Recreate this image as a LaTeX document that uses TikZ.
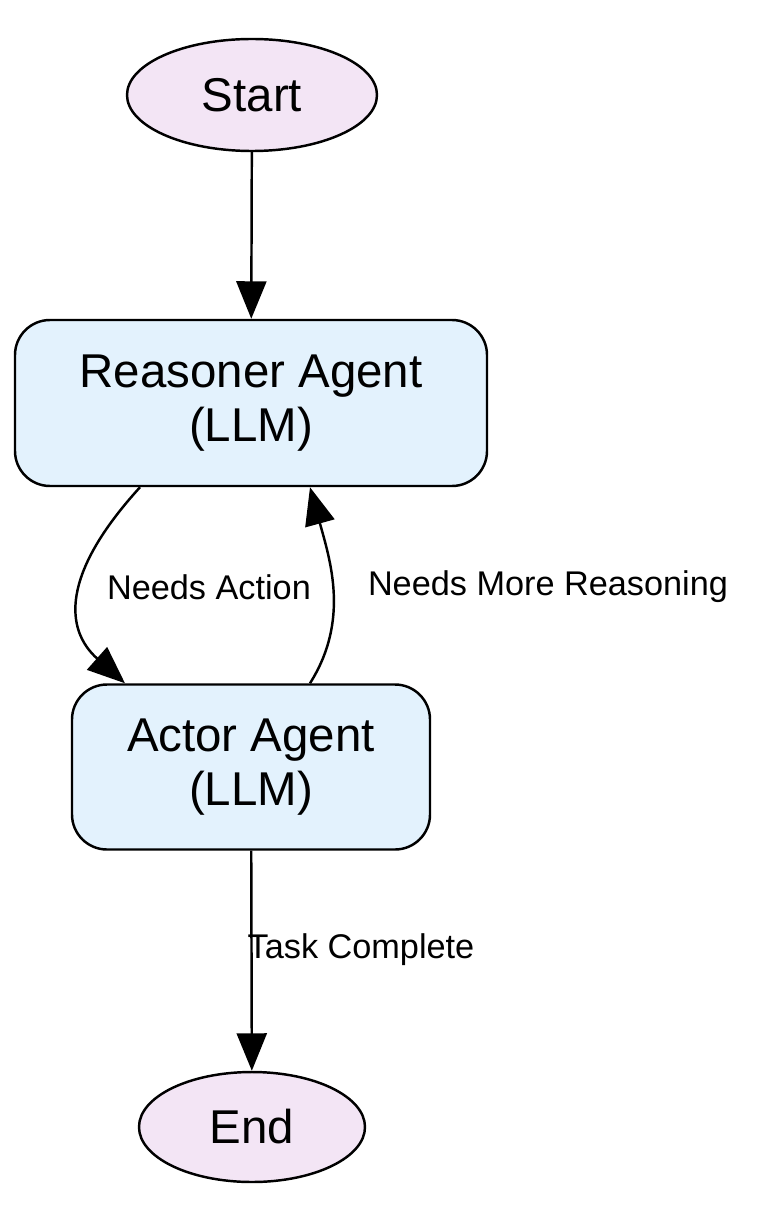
\documentclass[tikz,border=0pt]{standalone}
\usepackage{fontspec}
\setmainfont{Liberation Sans}
\usetikzlibrary{shapes.geometric, arrows.meta}
\definecolor{termfill}{HTML}{F3E5F5}
\definecolor{agentfill}{HTML}{E3F2FD}
\begin{document}
\begin{tikzpicture}[line width = 1.4pt,
  terminal/.style = {ellipse, draw, fill = termfill, inner sep = 0pt, font = \fontsize{27}{31}\selectfont},
  agent/.style = {rectangle, rounded corners = 0.7cm, draw, fill = agentfill, inner sep = 0pt, align = center, font = \fontsize{27}{31}\selectfont},
  flow/.style = {-{Triangle[length = 0.75cm, width = 0.6cm]}},
  lbl/.style = {font = \fontsize{19.5}{22}\selectfont, inner sep = 1pt}]

  \useasboundingbox (0, 0) rectangle (15.58, -24.34);

  \node[terminal, minimum width = 5.0cm, minimum height = 2.24cm] (start) at (5.04, -1.9) { Start };
  \node[agent, minimum width = 9.44cm, minimum height = 3.32cm] (reasoner) at (5.02, -8.06) { Reasoner Agent\\(LLM) };
  \node[agent, minimum width = 7.16cm, minimum height = 3.3cm] (actor) at (5.02, -15.34) { Actor Agent\\(LLM) };
  \node[terminal, minimum width = 4.52cm, minimum height = 2.2cm] (end) at (5.04, -22.54) { End };

  \draw[flow] (start) -- (reasoner);
  \draw[flow] (reasoner.south -| 2.8, 0) .. controls (1.2, -11.5) and (1.3, -12.6) .. (actor.north -| 2.5, 0);
  \draw[flow] (actor.north -| 6.2, 0) .. controls (7.0, -12.4) and (6.6, -11.2) .. (reasoner.south -| 6.2, 0);
  \draw[flow] (actor) -- (end);

  \node[lbl] (lblaction) at (4.18, -11.74) { Needs Action };
  \node[lbl] (lblmore) at (10.96, -11.74) { Needs More Reasoning };
  \node[lbl] (lbldone) at (7.22, -19.0) { Task Complete };

\end{tikzpicture}
\end{document}
